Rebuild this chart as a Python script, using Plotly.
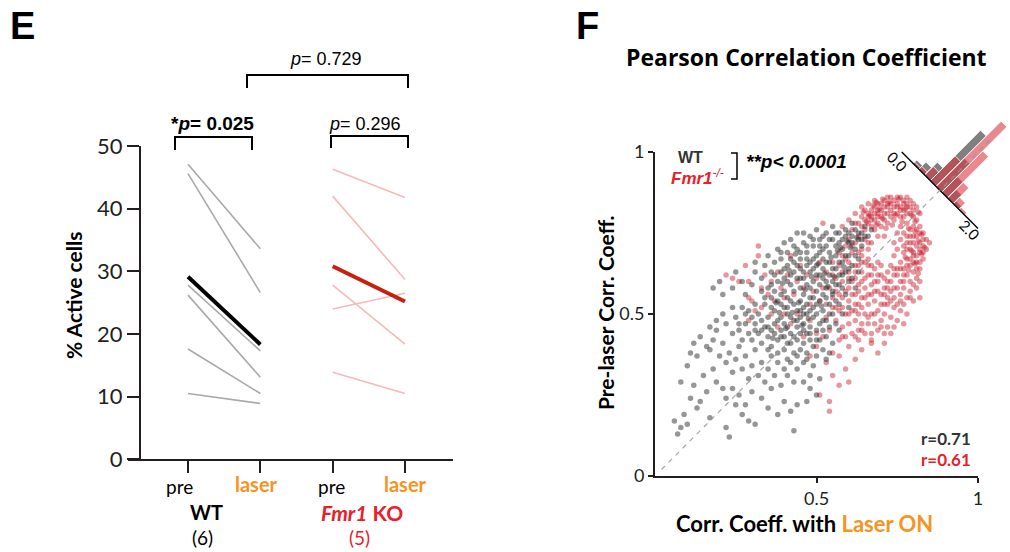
import math
import plotly.graph_objects as go

W, H = 1010, 552

# ---------------- Panel E data ----------------
cond_pos = [1, 2, 3, 4]
wt_pre = [47.1, 45.6, 27.8, 26.2, 17.6, 10.5]
wt_laser = [33.6, 26.6, 17.3, 13.1, 10.5, 8.9]
ko_pre = [46.3, 42.0, 27.8, 24.0, 13.9]
ko_laser = [41.8, 28.7, 18.4, 26.5, 10.5]
y_ticks_e = [0, 10, 20, 30, 40, 50]
p_wt = "<b>*<i>p</i>= 0.025</b>"
p_ko = "<i>p</i>= 0.296"
p_between = "<i>p</i>= 0.729"

# ---------------- Panel F data ----------------
wt_points = [
    (0.06,0.17),(0.07,0.13),(0.08,0.15),(0.09,0.19),(0.10,0.16),(0.11,0.24),(0.13,0.21),(0.14,0.23),(0.17,0.18),(0.16,0.26),
    (0.22,0.15),(0.23,0.12),(0.27,0.19),(0.29,0.17),(0.31,0.16),(0.43,0.14),(0.08,0.29),(0.12,0.28),(0.15,0.31),(0.18,0.33),
    (0.19,0.29),(0.21,0.27),(0.22,0.24),(0.24,0.27),(0.25,0.22),(0.26,0.25),(0.28,0.22),(0.30,0.26),(0.33,0.24),(0.35,0.21),
    (0.36,0.27),(0.38,0.19),(0.40,0.23),(0.42,0.20),(0.44,0.22),(0.47,0.23),(0.48,0.27),(0.50,0.25),(0.46,0.29),(0.43,0.29),
    (0.41,0.31),(0.39,0.28),(0.37,0.31),(0.34,0.29),(0.32,0.31),(0.29,0.30),(0.27,0.33),(0.24,0.32),(0.22,0.35),(0.20,0.37),
    (0.17,0.39),(0.10,0.34),(0.11,0.38),(0.12,0.41),(0.13,0.37),(0.14,0.43),(0.16,0.40),(0.18,0.42),(0.19,0.45),(0.21,0.41),
    (0.23,0.38),(0.25,0.36),(0.26,0.40),(0.28,0.37),(0.30,0.34),(0.31,0.39),(0.33,0.35),(0.35,0.33),(0.36,0.37),(0.38,0.35),
    (0.40,0.33),(0.42,0.35),(0.44,0.33),(0.46,0.35),(0.48,0.31),(0.49,0.34),(0.51,0.30),
    (0.22,0.47),(0.24,0.44),(0.25,0.49),(0.26,0.45),(0.27,0.42),(0.28,0.47),(0.29,0.44),(0.29,0.51),(0.30,0.42),(0.31,0.47),
    (0.32,0.44),(0.32,0.50),(0.33,0.41),(0.34,0.46),(0.34,0.53),(0.35,0.43),(0.35,0.49),(0.36,0.40),(0.36,0.45),(0.37,0.51),
    (0.37,0.47),(0.38,0.42),(0.38,0.54),(0.39,0.45),(0.39,0.49),(0.40,0.39),(0.40,0.43),(0.40,0.52),(0.41,0.46),(0.41,0.50),
    (0.42,0.41),(0.42,0.44),(0.42,0.54),(0.43,0.48),(0.43,0.38),(0.44,0.42),(0.44,0.46),(0.44,0.51),(0.45,0.39),(0.45,0.44),
    (0.45,0.49),(0.45,0.54),(0.46,0.41),(0.46,0.47),(0.46,0.52),(0.47,0.38),(0.47,0.44),(0.47,0.50),(0.48,0.42),(0.48,0.46),
    (0.48,0.55),(0.49,0.40),(0.49,0.49),(0.49,0.52),(0.50,0.37),(0.50,0.45),(0.50,0.50),(0.51,0.42),(0.51,0.47),(0.51,0.54),
    (0.52,0.39),(0.52,0.45),(0.52,0.51),(0.53,0.43),(0.53,0.48),(0.54,0.46),(0.54,0.53),(0.55,0.41),(0.55,0.50),(0.56,0.47),
    (0.56,0.54),(0.57,0.45),(0.58,0.50),(0.53,0.36),(0.54,0.38),(0.47,0.36),(0.44,0.37),(0.41,0.36),(0.38,0.38),(0.35,0.39),
    (0.33,0.45),(0.31,0.53),(0.27,0.52),(0.24,0.52),(0.21,0.50),(0.19,0.48),(0.17,0.46),(0.36,0.55),(0.39,0.56),(0.41,0.55),
    (0.18,0.58),(0.20,0.60),(0.21,0.56),(0.24,0.58),(0.25,0.63),(0.27,0.60),(0.28,0.56),(0.30,0.59),(0.31,0.63),(0.31,0.66),
    (0.33,0.57),(0.33,0.61),(0.34,0.65),(0.35,0.68),(0.36,0.59),(0.36,0.63),(0.37,0.66),(0.38,0.60),(0.38,0.70),(0.39,0.63),
    (0.39,0.67),(0.40,0.57),(0.40,0.61),(0.40,0.72),(0.41,0.65),(0.41,0.69),(0.42,0.59),(0.42,0.62),(0.42,0.73),(0.43,0.66),
    (0.43,0.57),(0.44,0.61),(0.44,0.70),(0.44,0.75),(0.45,0.58),(0.45,0.64),(0.45,0.67),(0.46,0.56),(0.46,0.61),(0.46,0.72),
    (0.47,0.59),(0.47,0.65),(0.47,0.69),(0.48,0.58),(0.48,0.63),(0.48,0.74),(0.49,0.60),(0.49,0.67),(0.49,0.71),(0.50,0.57),
    (0.50,0.62),(0.50,0.65),(0.50,0.76),(0.51,0.59),(0.51,0.69),(0.51,0.73),(0.52,0.56),(0.52,0.61),(0.52,0.64),(0.52,0.67),
    (0.53,0.58),(0.53,0.71),(0.53,0.75),(0.54,0.62),(0.54,0.66),(0.54,0.69),(0.55,0.57),(0.55,0.60),(0.55,0.73),(0.55,0.77),
    (0.56,0.64),(0.56,0.68),(0.56,0.71),(0.57,0.59),(0.57,0.62),(0.57,0.75),(0.58,0.66),(0.58,0.70),(0.58,0.73),(0.59,0.63),
    (0.59,0.76),(0.60,0.60),(0.60,0.68),(0.60,0.72),(0.61,0.65),(0.61,0.74),(0.61,0.78),(0.62,0.70),(0.62,0.76),(0.63,0.67),
    (0.63,0.73),(0.64,0.75),(0.64,0.71),(0.65,0.77),(0.66,0.74),(0.67,0.76),(0.59,0.56),(0.57,0.53),(0.60,0.52),(0.62,0.58),
    (0.61,0.61),(0.63,0.63),(0.46,0.75),
    (0.41,0.60),(0.43,0.63),(0.45,0.61),(0.47,0.67),(0.49,0.64),(0.51,0.62),(0.53,0.60),(0.55,0.64),(0.57,0.66),(0.59,0.68),
    (0.61,0.72),(0.63,0.75),(0.54,0.73),(0.52,0.70),(0.50,0.68),(0.48,0.66),(0.46,0.63),(0.44,0.65),(0.42,0.67),(0.40,0.64),
    (0.56,0.59),(0.58,0.62),(0.60,0.64),(0.62,0.68),(0.57,0.72),(0.59,0.74),(0.53,0.66),(0.51,0.71),(0.49,0.73),(0.47,0.71),
    (0.45,0.69),(0.43,0.71),(0.39,0.69),(0.37,0.62),(0.35,0.58),(0.34,0.55),(0.37,0.57),(0.39,0.53),(0.41,0.52),(0.43,0.53),
    (0.45,0.51),(0.47,0.53),(0.49,0.55),(0.43,0.43),(0.41,0.41),(0.39,0.43),(0.37,0.44),(0.35,0.46),(0.33,0.48),(0.31,0.45),
    (0.30,0.49),(0.28,0.50),(0.26,0.47),(0.46,0.45),(0.48,0.44),(0.50,0.42),(0.52,0.48),(0.54,0.50),(0.42,0.49),(0.40,0.47),
    (0.38,0.48),(0.36,0.52),(0.50,0.53),(0.48,0.51),(0.46,0.50),(0.44,0.48),(0.55,0.56),(0.53,0.55),(0.58,0.58),(0.64,0.73),
    (0.65,0.74),(0.60,0.75),(0.56,0.75),(0.52,0.74),
    (0.485,0.615),(0.505,0.655),(0.525,0.625),(0.545,0.675),(0.565,0.695),(0.585,0.645),(0.605,0.705),(0.625,0.735),
    (0.465,0.575),(0.445,0.535),(0.425,0.505),(0.405,0.455),(0.385,0.505),(0.365,0.425),(0.455,0.465),(0.475,0.485),
    (0.515,0.525),(0.535,0.585),(0.555,0.615),(0.575,0.705),(0.595,0.725),(0.435,0.685),(0.415,0.635),(0.395,0.595),
    (0.375,0.535),
]
ko_points = [
    (0.22,0.62),(0.24,0.61),(0.26,0.60),(0.28,0.65),(0.29,0.60),(0.30,0.54),(0.29,0.55),(0.32,0.71),(0.32,0.68),(0.33,0.58),
    (0.31,0.51),(0.29,0.48),(0.34,0.62),(0.35,0.56),(0.36,0.60),(0.37,0.54),(0.38,0.63),(0.39,0.58),(0.40,0.55),(0.41,0.62),
    (0.42,0.68),(0.43,0.56),(0.44,0.60),(0.45,0.65),(0.46,0.58),(0.47,0.62),(0.48,0.53),(0.49,0.57),(0.50,0.61),(0.51,0.66),
    (0.52,0.78),(0.48,0.48),(0.50,0.44),(0.46,0.43),(0.44,0.50),(0.42,0.47),(0.40,0.50),(0.38,0.46),(0.36,0.50),(0.33,0.52),
    (0.51,0.25),(0.54,0.20),(0.54,0.23),(0.55,0.31),(0.57,0.28),(0.59,0.33),(0.60,0.29),(0.62,0.36),(0.64,0.39),(0.53,0.35),
    (0.55,0.38),(0.57,0.37),(0.60,0.40),(0.67,0.41),(0.69,0.38),(0.71,0.41),(0.73,0.44),(0.50,0.40),(0.52,0.43),(0.48,0.37),
    (0.53,0.49),(0.54,0.45),(0.55,0.52),(0.55,0.62),(0.56,0.48),(0.56,0.57),(0.57,0.42),(0.57,0.51),(0.57,0.65),(0.58,0.46),
    (0.58,0.55),(0.58,0.60),(0.59,0.43),(0.59,0.50),(0.59,0.67),(0.60,0.47),(0.60,0.54),(0.60,0.58),(0.60,0.63),(0.61,0.44),
    (0.61,0.51),(0.61,0.56),(0.61,0.69),(0.62,0.48),(0.62,0.53),(0.62,0.61),(0.62,0.65),(0.63,0.45),(0.63,0.50),(0.63,0.57),
    (0.63,0.59),(0.64,0.47),(0.64,0.52),(0.64,0.55),(0.64,0.63),(0.64,0.68),(0.65,0.44),(0.65,0.50),(0.65,0.58),(0.65,0.61),
    (0.66,0.47),(0.66,0.53),(0.66,0.56),(0.66,0.65),(0.66,0.70),(0.67,0.44),(0.67,0.50),(0.67,0.59),(0.67,0.62),(0.68,0.47),
    (0.68,0.54),(0.68,0.57),(0.68,0.64),(0.69,0.45),(0.69,0.51),(0.69,0.60),(0.69,0.62),(0.70,0.48),(0.70,0.53),(0.70,0.56),
    (0.70,0.65),(0.71,0.50),(0.71,0.58),(0.71,0.61),(0.72,0.46),(0.72,0.53),(0.72,0.55),(0.72,0.63),(0.73,0.49),(0.73,0.57),
    (0.73,0.60),(0.73,0.65),(0.74,0.52),(0.74,0.55),(0.74,0.62),(0.75,0.48),(0.75,0.58),(0.75,0.64),(0.76,0.51),(0.76,0.56),
    (0.76,0.60),(0.77,0.53),(0.77,0.58),(0.78,0.55),(0.78,0.50),(0.79,0.57),(0.80,0.54),(0.81,0.58),(0.82,0.55),(0.71,0.44),
    (0.74,0.46),(0.77,0.47),(0.67,0.42),(0.63,0.42),(0.55,0.55),(0.53,0.53),(0.54,0.58),(0.56,0.61),(0.58,0.63),(0.59,0.71),
    (0.60,0.66),(0.62,0.72),(0.63,0.69),(0.57,0.69),(0.55,0.66),(0.53,0.63),(0.52,0.58),(0.51,0.54),
    (0.58,0.77),(0.60,0.79),(0.61,0.76),(0.62,0.81),(0.63,0.78),(0.64,0.80),(0.64,0.83),(0.65,0.76),(0.65,0.79),(0.66,0.78),
    (0.66,0.81),(0.66,0.84),(0.67,0.77),(0.67,0.80),(0.67,0.82),(0.68,0.76),(0.68,0.79),(0.68,0.83),(0.68,0.85),(0.69,0.78),
    (0.69,0.81),(0.69,0.84),(0.70,0.77),(0.70,0.80),(0.70,0.82),(0.71,0.79),(0.71,0.83),(0.71,0.85),(0.72,0.78),(0.72,0.81),
    (0.72,0.84),(0.73,0.80),(0.73,0.82),(0.73,0.86),(0.74,0.79),(0.74,0.83),(0.74,0.85),(0.75,0.81),(0.75,0.84),(0.76,0.80),
    (0.76,0.83),(0.76,0.86),(0.77,0.82),(0.77,0.85),(0.78,0.81),(0.78,0.84),(0.78,0.86),(0.79,0.83),(0.79,0.85),(0.80,0.82),
    (0.80,0.84),(0.81,0.83),(0.82,0.81),(0.63,0.74),(0.65,0.73),(0.67,0.72),(0.69,0.74),(0.61,0.71),(0.64,0.70),(0.66,0.67),
    (0.71,0.74),
    (0.74,0.72),(0.75,0.70),(0.75,0.75),(0.76,0.66),(0.76,0.73),(0.76,0.77),(0.77,0.64),(0.77,0.69),(0.77,0.75),(0.78,0.62),
    (0.78,0.67),(0.78,0.72),(0.78,0.78),(0.79,0.60),(0.79,0.65),(0.79,0.70),(0.79,0.74),(0.80,0.63),(0.80,0.68),(0.80,0.72),
    (0.80,0.77),(0.81,0.61),(0.81,0.66),(0.81,0.74),(0.81,0.79),(0.82,0.64),(0.82,0.69),(0.82,0.72),(0.82,0.77),(0.83,0.67),
    (0.83,0.71),(0.83,0.75),(0.84,0.70),(0.84,0.73),(0.85,0.72),(0.80,0.59),(0.82,0.60),(0.74,0.68),
    (0.67,0.79),(0.69,0.80),(0.70,0.84),(0.72,0.83),(0.73,0.84),(0.74,0.81),(0.75,0.83),(0.76,0.82),(0.77,0.84),(0.79,0.81),
    (0.80,0.80),(0.71,0.81),(0.69,0.82),(0.68,0.81),(0.66,0.80),(0.65,0.82),(0.72,0.86),(0.75,0.86),(0.77,0.80),(0.78,0.83),
    (0.81,0.76),(0.80,0.74),(0.81,0.71),(0.82,0.70),(0.80,0.69),(0.79,0.67),(0.80,0.66),(0.81,0.68),(0.82,0.66),(0.83,0.69),
    (0.79,0.72),(0.78,0.70),(0.77,0.71),(0.78,0.74),(0.79,0.76),(0.82,0.75),(0.83,0.73),(0.81,0.64),(0.78,0.65),(0.77,0.62),
    (0.75,0.62),(0.74,0.64),(0.72,0.58),(0.70,0.62),(0.68,0.60),(0.66,0.62),(0.64,0.60),(0.62,0.56),(0.60,0.61),(0.63,0.65),
    (0.65,0.66),(0.67,0.65),(0.69,0.57),(0.71,0.53),(0.73,0.54),(0.75,0.53),(0.66,0.49),(0.64,0.45),(0.62,0.51),(0.60,0.50),
    (0.58,0.52),(0.59,0.57),(0.61,0.60),(0.57,0.56),(0.56,0.52),(0.58,0.43),(0.62,0.43),(0.68,0.50),(0.70,0.46),(0.76,0.54),
    (0.79,0.55),(0.77,0.60),(0.76,0.64),(0.65,0.55),(0.63,0.53),(0.67,0.56),(0.71,0.56),(0.74,0.58),(0.72,0.60),(0.69,0.66),
    (0.64,0.66),(0.62,0.63),(0.66,0.72),(0.64,0.77),(0.62,0.78),(0.60,0.73),(0.58,0.68),
    (0.665,0.805),(0.675,0.835),(0.685,0.775),(0.695,0.825),(0.705,0.795),(0.715,0.765),(0.725,0.845),(0.735,0.775),
    (0.745,0.805),(0.755,0.855),(0.765,0.785),(0.775,0.825),(0.785,0.765),(0.795,0.805),(0.805,0.785),(0.815,0.815),
    (0.705,0.855),(0.685,0.845),(0.655,0.785),(0.645,0.815),
    (0.795,0.695),(0.805,0.655),(0.815,0.725),(0.825,0.685),(0.835,0.705),(0.785,0.635),(0.775,0.675),(0.805,0.755),
    (0.825,0.745),(0.815,0.625),
]
wt_x = [p[0] for p in wt_points]
wt_y = [p[1] for p in wt_points]
ko_x = [p[0] for p in ko_points]
ko_y = [p[1] for p in ko_points]

# rotated inset histogram (ratio 0.0 - 2.0)
hist_edges = [0.30, 0.45, 0.60, 0.75, 0.90, 1.05, 1.20, 1.35, 1.50, 1.65]
wt_hist = [5, 10, 18, 71, 40, 22, 12, 4, 0]
ko_hist = [2, 4, 12, 35, 92, 58, 22, 9, 3]
HIST_SCALE = 1 / 323.0   # bar length per count (data units)
HIST_C = 0.882           # where the inset axis crosses the identity line
HIST_HALF = 0.167        # half-length of the 0-2 inset axis
r_wt = "r=0.71"
r_ko = "r=0.61"

# ---------------- colours ----------------
GRAY_LINE = "#a9a9a9"
PINK_LINE = "#f6b9b9"
RED_MEAN = "#c8200e"
RED_TXT = "#e8202a"
ORANGE = "#f7931e"
DARK = "#231f20"


def PX(x):
    return x / W


def PY(y):
    return 1 - y / H


fig = go.Figure()

# ---- Panel E lines ----
for a, b in zip(wt_pre, wt_laser):
    fig.add_trace(go.Scatter(x=cond_pos[0:2], y=[a, b], mode="lines",
                             line=dict(color=GRAY_LINE, width=1.6), xaxis="x", yaxis="y",
                             showlegend=False, hoverinfo="skip"))
fig.add_trace(go.Scatter(x=cond_pos[0:2], y=[sum(wt_pre) / len(wt_pre), sum(wt_laser) / len(wt_laser)],
                         mode="lines", line=dict(color="black", width=4), xaxis="x", yaxis="y",
                         showlegend=False))
for a, b in zip(ko_pre, ko_laser):
    fig.add_trace(go.Scatter(x=cond_pos[2:4], y=[a, b], mode="lines",
                             line=dict(color=PINK_LINE, width=1.6), xaxis="x", yaxis="y",
                             showlegend=False, hoverinfo="skip"))
fig.add_trace(go.Scatter(x=cond_pos[2:4], y=[sum(ko_pre) / len(ko_pre), sum(ko_laser) / len(ko_laser)],
                         mode="lines", line=dict(color=RED_MEAN, width=4), xaxis="x", yaxis="y",
                         showlegend=False))

# ---- Panel F scatter ----
fig.add_trace(go.Scatter(x=ko_x, y=ko_y, mode="markers", xaxis="x2", yaxis="y2",
                         marker=dict(size=5.5, color="rgb(200,25,40)", opacity=0.45, line=dict(width=0)),
                         showlegend=False, cliponaxis=False))
fig.add_trace(go.Scatter(x=wt_x, y=wt_y, mode="markers", xaxis="x2", yaxis="y2",
                         marker=dict(size=5.5, color="rgb(35,35,35)", opacity=0.48, line=dict(width=0)),
                         showlegend=False, cliponaxis=False))

# ---- rotated histogram inset (x3/y3 share the F scale) ----
s2 = math.sqrt(2)


def hist_pt(t, h):
    a = (t - 1.0) * HIST_HALF
    return HIST_C + (a + h) / s2, HIST_C + (-a + h) / s2


def bars(counts):
    xs, ys = [], []
    for i, c in enumerate(counts):
        if c <= 0:
            continue
        t0, t1 = hist_edges[i], hist_edges[i + 1]
        h = c * HIST_SCALE
        for t, hh in [(t0, 0), (t1, 0), (t1, h), (t0, h), (t0, 0)]:
            px_, py_ = hist_pt(t, hh)
            xs.append(px_)
            ys.append(py_)
        xs.append(None)
        ys.append(None)
    return xs, ys


gx, gy = bars(wt_hist)
fig.add_trace(go.Scatter(x=gx, y=gy, mode="lines", fill="toself", fillcolor="#808080",
                         line=dict(color="white", width=0.8), xaxis="x3", yaxis="y3",
                         showlegend=False, hoverinfo="skip"))
rx, ry = bars(ko_hist)
fig.add_trace(go.Scatter(x=rx, y=ry, mode="lines", fill="toself", fillcolor="rgba(214,52,62,0.58)",
                         line=dict(color="white", width=0.8), xaxis="x3", yaxis="y3",
                         showlegend=False, hoverinfo="skip"))
ax0 = hist_pt(0.0, 0.0)
ax1 = hist_pt(2.0, 0.0)
fig.add_trace(go.Scatter(x=[ax0[0], ax1[0]], y=[ax0[1], ax1[1]], mode="lines",
                         line=dict(color="black", width=1.4), xaxis="x3", yaxis="y3",
                         showlegend=False, hoverinfo="skip"))
# identity (dashed) line
fig.add_trace(go.Scatter(x=[0.02, 1.04], y=[0.02, 1.04], mode="lines",
                         line=dict(color="rgba(150,150,150,0.85)", width=1.2, dash="5px,5px"),
                         xaxis="x3", yaxis="y3", showlegend=False, hoverinfo="skip"))

annotations = []


def ann(text, x, y, size, color=DARK, family="Lato", xanchor="center", angle=0,
        xref="paper", yref="paper"):
    annotations.append(dict(text=text, x=x, y=y, xref=xref, yref=yref, showarrow=False,
                            xanchor=xanchor, yanchor="middle", textangle=angle,
                            font=dict(size=size, color=color, family=family)))


# Panel letters and titles
ann("<b>E</b>", PX(22), PY(26), 38, "black", "Liberation Sans")
ann("<b>F</b>", PX(587), PY(26), 38, "black", "Liberation Sans")
ann("<b>Pearson Correlation Coefficient</b>", PX(806), PY(57), 23, "black", "Open Sans")

# Panel E labels
ann("<b>% Active cells</b>", PX(73), PY(296), 21, "black", angle=-90)
ann("pre", PX(179), PY(486), 19, "black")
ann("pre", PX(331), PY(486), 19, "black")
ann("<b>laser</b>", PX(256), PY(484), 20, ORANGE)
ann("<b>laser</b>", PX(405), PY(484), 20, ORANGE)
ann("<b>WT</b>", PX(206), PY(512), 20, "black")
ann("(6)", PX(202), PY(537), 19, "black")
ann("<b><i>Fmr1</i> KO</b>", PX(362), PY(512), 21, RED_TXT)
ann("(5)", PX(359), PY(537), 19, RED_TXT)
ann(p_wt, PX(212), PY(123), 19, "black", "Liberation Sans")
ann(p_ko, PX(365), PY(124), 18, "black", "Liberation Sans")
ann(p_between, PX(326), PY(59), 18, "black", "Liberation Sans")

# Panel F labels
ann("<b>Pre-laser Corr. Coeff.</b>", PX(605), PY(313), 21, "black", angle=-90)
ann("<b>Corr. Coeff. with <span style='color:%s'>Laser ON</span></b>" % ORANGE,
    PX(804), PY(523), 22, "black")
ann("<b>WT</b>", PX(690), PY(157), 16, "#333333", "Liberation Sans")
ann("<b><i>Fmr1</i></b><sup><i>-/-</i></sup>", PX(697), PY(177), 17, RED_TXT, "Liberation Sans")
ann("<b><i>**p&lt; 0.0001</i></b>", PX(744), PY(162), 19, "black", "Liberation Sans", xanchor="left")
ann("<b>%s</b>" % r_wt, PX(973), PY(438), 17, "#333333", xanchor="right")
ann("<b>%s</b>" % r_ko, PX(973), PY(459), 17, RED_TXT, xanchor="right")
l0 = hist_pt(0.056, -0.030)
l2 = hist_pt(1.914, -0.021)
ann("0.0", l0[0], l0[1], 15, "black", angle=45, xref="x3", yref="y3")
ann("2.0", l2[0], l2[1], 15, "black", angle=45, xref="x3", yref="y3")


def path(pts):
    return "M " + " L ".join("%.5f,%.5f" % (PX(a), PY(b)) for a, b in pts)


shapes = [
    dict(type="path", path=path([(175, 150), (175, 137), (252, 137), (252, 150)]),
         xref="paper", yref="paper", line=dict(color="black", width=2)),
    dict(type="path", path=path([(331, 148), (331, 136), (408, 136), (408, 148)]),
         xref="paper", yref="paper", line=dict(color="black", width=2)),
    dict(type="path", path=path([(247, 88), (247, 75), (408, 75), (408, 88)]),
         xref="paper", yref="paper", line=dict(color="black", width=2)),
    dict(type="path", path=path([(731, 153), (737, 153), (737, 179), (731, 179)]),
         xref="paper", yref="paper", line=dict(color="black", width=1.5)),
]

tickfont_e = dict(family="Lato", size=22, color=DARK)
tickfont_f = dict(family="Lato", size=18, color=DARK)

fig.update_layout(
    template="none",
    width=W, height=H, margin=dict(l=0, r=0, t=0, b=0, pad=0, autoexpand=False),
    paper_bgcolor="white", plot_bgcolor="rgba(0,0,0,0)",
    showlegend=False, annotations=annotations, shapes=shapes,
    xaxis=dict(domain=[PX(128), PX(453)], range=[1 - 60 / 72.33, 4 + 48 / 72.33], anchor="y",
               automargin=False,
               showgrid=False, zeroline=False, showline=True, linecolor=DARK, linewidth=2,
               tickvals=cond_pos, ticks="outside", ticklen=12, tickwidth=2, tickcolor=DARK,
               showticklabels=False),
    yaxis=dict(domain=[PY(459.3), PY(146)], range=[0, 50], anchor="free", position=PX(140),
               automargin=False,
               showgrid=False, zeroline=False, showline=True, linecolor=DARK, linewidth=2,
               tickvals=y_ticks_e, ticks="outside", ticklen=12, tickwidth=2, tickcolor=DARK,
               tickfont=tickfont_e),
    xaxis2=dict(domain=[PX(655), PX(978)], range=[0, 1], anchor="y2", automargin=False,
                showgrid=False, zeroline=False, showline=True, linecolor=DARK, linewidth=2,
                tickvals=[0.5, 1], ticktext=["0.5", "1"], ticks="outside", ticklen=5,
                tickwidth=1.5, tickcolor=DARK, tickfont=tickfont_f),
    yaxis2=dict(domain=[PY(476), PY(152)], range=[0, 1], anchor="x2", automargin=False,
                showgrid=False, zeroline=False, showline=True, linecolor=DARK, linewidth=2,
                tickvals=[0, 0.5, 1], ticktext=["0", "0.5", "1"], ticks="outside", ticklen=5,
                tickwidth=1.5, tickcolor=DARK, tickfont=tickfont_f),
    xaxis3=dict(domain=[PX(655), 1.0], range=[0, 355 / 323.0], anchor="y3", visible=False,
                automargin=False),
    yaxis3=dict(domain=[PY(476), PY(100)], range=[0, 376 / 324.0], anchor="x3", visible=False,
                automargin=False),
)

fig.write_html("out.html")
